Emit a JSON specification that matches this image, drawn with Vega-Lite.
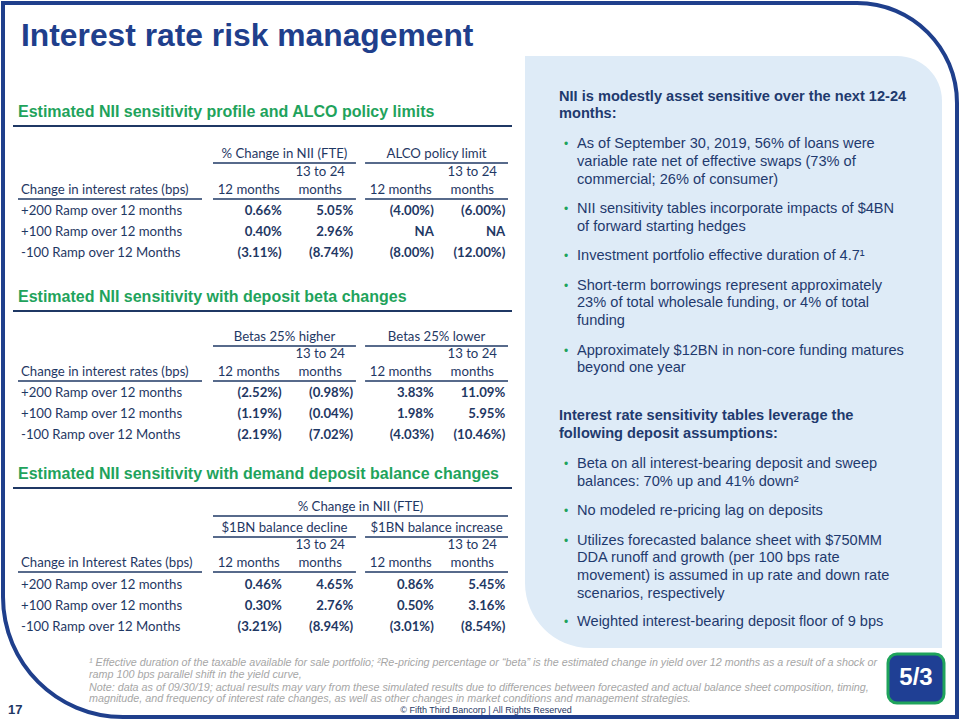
{
  "$schema": "https://vega.github.io/schema/vega-lite/v6.json",
  "width": 960,
  "height": 720,
  "autosize": {"type": "fit", "contains": "padding"},
  "padding": 0,
  "background": "#ffffff",
  "config": {"view": {"stroke": null}},
  "datasets": {
    "shapes": [
      {"area": "slide"},
      {"area": "summary"},
      {"area": "logo"}
    ],
    "texts": [
      {"role": "title", "area": "title", "line": 0, "text": "Interest rate risk management"},
      {"role": "heading", "area": "tables", "line": 1, "text": "Estimated NII sensitivity profile and ALCO policy limits"},
      {"role": "heading", "area": "tables", "line": 8, "text": "Estimated NII sensitivity with deposit beta changes"},
      {"role": "heading", "area": "tables", "line": 15, "text": "Estimated NII sensitivity with demand deposit balance changes"},
      {"role": "rowheader", "area": "tables", "line": 4, "text": "Change in interest rates (bps)"},
      {"role": "rowheader", "area": "tables", "line": 11, "text": "Change in interest rates (bps)"},
      {"role": "rowheader", "area": "tables", "line": 19, "text": "Change in Interest Rates (bps)"},
      {"role": "panelhead", "area": "summary", "line": 30, "text": "NII is modestly asset sensitive over the next 12-24"},
      {"role": "panelhead", "area": "summary", "line": 31, "text": "months:"},
      {"role": "bullet", "area": "summary", "line": 32, "first": true, "text": "As of September 30, 2019, 56% of loans were"},
      {"role": "bullet", "area": "summary", "line": 33, "first": false, "text": "variable rate net of effective swaps (73% of"},
      {"role": "bullet", "area": "summary", "line": 34, "first": false, "text": "commercial; 26% of consumer)"},
      {"role": "bullet", "area": "summary", "line": 35, "first": true, "text": "NII sensitivity tables incorporate impacts of $4BN"},
      {"role": "bullet", "area": "summary", "line": 36, "first": false, "text": "of forward starting hedges"},
      {"role": "bullet", "area": "summary", "line": 37, "first": true, "text": "Investment portfolio effective duration of 4.7¹"},
      {"role": "bullet", "area": "summary", "line": 38, "first": true, "text": "Short-term borrowings represent approximately"},
      {"role": "bullet", "area": "summary", "line": 39, "first": false, "text": "23% of total wholesale funding, or 4% of total"},
      {"role": "bullet", "area": "summary", "line": 40, "first": false, "text": "funding"},
      {"role": "bullet", "area": "summary", "line": 41, "first": true, "text": "Approximately $12BN in non-core funding matures"},
      {"role": "bullet", "area": "summary", "line": 42, "first": false, "text": "beyond one year"},
      {"role": "panelhead", "area": "summary", "line": 43, "text": "Interest rate sensitivity tables leverage the"},
      {"role": "panelhead", "area": "summary", "line": 44, "text": "following deposit assumptions:"},
      {"role": "bullet", "area": "summary", "line": 45, "first": true, "text": "Beta on all interest-bearing deposit and sweep"},
      {"role": "bullet", "area": "summary", "line": 46, "first": false, "text": "balances: 70% up and 41% down²"},
      {"role": "bullet", "area": "summary", "line": 47, "first": true, "text": "No modeled re-pricing lag on deposits"},
      {"role": "bullet", "area": "summary", "line": 48, "first": true, "text": "Utilizes forecasted balance sheet with $750MM"},
      {"role": "bullet", "area": "summary", "line": 49, "first": false, "text": "DDA runoff and growth (per 100 bps rate"},
      {"role": "bullet", "area": "summary", "line": 50, "first": false, "text": "movement) is assumed in up rate and down rate"},
      {"role": "bullet", "area": "summary", "line": 51, "first": false, "text": "scenarios, respectively"},
      {"role": "bullet", "area": "summary", "line": 52, "first": true, "text": "Weighted interest-bearing deposit floor of 9 bps"},
      {"role": "footnote", "area": "footer", "line": 23, "text": "¹ Effective duration of the taxable available for sale portfolio; ²Re-pricing percentage or “beta” is the estimated change in yield over 12 months as a result of a shock or"},
      {"role": "footnote", "area": "footer", "line": 24, "text": "ramp 100 bps parallel shift in the yield curve,"},
      {"role": "footnote", "area": "footer", "line": 25, "text": "Note: data as of 09/30/19; actual results may vary from these simulated results due to differences between forecasted and actual balance sheet composition, timing,"},
      {"role": "footnote", "area": "footer", "line": 26, "text": "magnitude, and frequency of interest rate changes, as well as other changes in market conditions and management strategies."},
      {"role": "copyright", "area": "footer", "line": 27, "text": "© Fifth Third Bancorp | All Rights Reserved"},
      {"role": "page", "area": "page", "line": 27, "text": "17"},
      {"role": "logo", "area": "logo", "line": 28, "text": "5/3"}
    ],
    "groups": [
      {"table": "t1", "line": 2, "set": "A", "text": "% Change in NII (FTE)"},
      {"table": "t1", "line": 2, "set": "B", "text": "ALCO policy limit"},
      {"table": "t2", "line": 9, "set": "A", "text": "Betas 25% higher"},
      {"table": "t2", "line": 9, "set": "B", "text": "Betas 25% lower"},
      {"table": "t3", "line": 17, "set": "A", "text": "$1BN balance decline"},
      {"table": "t3", "line": 17, "set": "B", "text": "$1BN balance increase"}
    ],
    "superheads": [
      {"table": "t3", "line": 16, "span": "all", "text": "% Change in NII (FTE)"}
    ],
    "colheads": [
      {"table": "t1", "line": 3, "set": "A", "horizon": "13 to 24 months", "text": "13 to 24"},
      {"table": "t1", "line": 3, "set": "B", "horizon": "13 to 24 months", "text": "13 to 24"},
      {"table": "t1", "line": 4, "set": "A", "horizon": "12 months", "text": "12 months"},
      {"table": "t1", "line": 4, "set": "A", "horizon": "13 to 24 months", "text": "months"},
      {"table": "t1", "line": 4, "set": "B", "horizon": "12 months", "text": "12 months"},
      {"table": "t1", "line": 4, "set": "B", "horizon": "13 to 24 months", "text": "months"},
      {"table": "t2", "line": 10, "set": "A", "horizon": "13 to 24 months", "text": "13 to 24"},
      {"table": "t2", "line": 10, "set": "B", "horizon": "13 to 24 months", "text": "13 to 24"},
      {"table": "t2", "line": 11, "set": "A", "horizon": "12 months", "text": "12 months"},
      {"table": "t2", "line": 11, "set": "A", "horizon": "13 to 24 months", "text": "months"},
      {"table": "t2", "line": 11, "set": "B", "horizon": "12 months", "text": "12 months"},
      {"table": "t2", "line": 11, "set": "B", "horizon": "13 to 24 months", "text": "months"},
      {"table": "t3", "line": 18, "set": "A", "horizon": "13 to 24 months", "text": "13 to 24"},
      {"table": "t3", "line": 18, "set": "B", "horizon": "13 to 24 months", "text": "13 to 24"},
      {"table": "t3", "line": 19, "set": "A", "horizon": "12 months", "text": "12 months"},
      {"table": "t3", "line": 19, "set": "A", "horizon": "13 to 24 months", "text": "months"},
      {"table": "t3", "line": 19, "set": "B", "horizon": "12 months", "text": "12 months"},
      {"table": "t3", "line": 19, "set": "B", "horizon": "13 to 24 months", "text": "months"}
    ],
    "underlines": [
      {"table": "t1", "line": 2, "from": "A", "to": "A"},
      {"table": "t1", "line": 2, "from": "B", "to": "B"},
      {"table": "t1", "line": 4, "from": "A", "to": "A"},
      {"table": "t1", "line": 4, "from": "B", "to": "B"},
      {"table": "t2", "line": 9, "from": "A", "to": "A"},
      {"table": "t2", "line": 9, "from": "B", "to": "B"},
      {"table": "t2", "line": 11, "from": "A", "to": "A"},
      {"table": "t2", "line": 11, "from": "B", "to": "B"},
      {"table": "t3", "line": 16, "from": "A", "to": "B"},
      {"table": "t3", "line": 17, "from": "A", "to": "A"},
      {"table": "t3", "line": 17, "from": "B", "to": "B"},
      {"table": "t3", "line": 19, "from": "A", "to": "A"},
      {"table": "t3", "line": 19, "from": "B", "to": "B"}
    ],
    "cells": [
      {"table": "t1", "line": 5, "scenario": "+200 Ramp over 12 months", "set": "A", "horizon": "12 months", "value": "0.66%"},
      {"table": "t1", "line": 5, "scenario": "+200 Ramp over 12 months", "set": "A", "horizon": "13 to 24 months", "value": "5.05%"},
      {"table": "t1", "line": 5, "scenario": "+200 Ramp over 12 months", "set": "B", "horizon": "12 months", "value": "(4.00%)"},
      {"table": "t1", "line": 5, "scenario": "+200 Ramp over 12 months", "set": "B", "horizon": "13 to 24 months", "value": "(6.00%)"},
      {"table": "t1", "line": 6, "scenario": "+100 Ramp over 12 months", "set": "A", "horizon": "12 months", "value": "0.40%"},
      {"table": "t1", "line": 6, "scenario": "+100 Ramp over 12 months", "set": "A", "horizon": "13 to 24 months", "value": "2.96%"},
      {"table": "t1", "line": 6, "scenario": "+100 Ramp over 12 months", "set": "B", "horizon": "12 months", "value": "NA"},
      {"table": "t1", "line": 6, "scenario": "+100 Ramp over 12 months", "set": "B", "horizon": "13 to 24 months", "value": "NA"},
      {"table": "t1", "line": 7, "scenario": "-100 Ramp over 12 Months", "set": "A", "horizon": "12 months", "value": "(3.11%)"},
      {"table": "t1", "line": 7, "scenario": "-100 Ramp over 12 Months", "set": "A", "horizon": "13 to 24 months", "value": "(8.74%)"},
      {"table": "t1", "line": 7, "scenario": "-100 Ramp over 12 Months", "set": "B", "horizon": "12 months", "value": "(8.00%)"},
      {"table": "t1", "line": 7, "scenario": "-100 Ramp over 12 Months", "set": "B", "horizon": "13 to 24 months", "value": "(12.00%)"},
      {"table": "t2", "line": 12, "scenario": "+200 Ramp over 12 months", "set": "A", "horizon": "12 months", "value": "(2.52%)"},
      {"table": "t2", "line": 12, "scenario": "+200 Ramp over 12 months", "set": "A", "horizon": "13 to 24 months", "value": "(0.98%)"},
      {"table": "t2", "line": 12, "scenario": "+200 Ramp over 12 months", "set": "B", "horizon": "12 months", "value": "3.83%"},
      {"table": "t2", "line": 12, "scenario": "+200 Ramp over 12 months", "set": "B", "horizon": "13 to 24 months", "value": "11.09%"},
      {"table": "t2", "line": 13, "scenario": "+100 Ramp over 12 months", "set": "A", "horizon": "12 months", "value": "(1.19%)"},
      {"table": "t2", "line": 13, "scenario": "+100 Ramp over 12 months", "set": "A", "horizon": "13 to 24 months", "value": "(0.04%)"},
      {"table": "t2", "line": 13, "scenario": "+100 Ramp over 12 months", "set": "B", "horizon": "12 months", "value": "1.98%"},
      {"table": "t2", "line": 13, "scenario": "+100 Ramp over 12 months", "set": "B", "horizon": "13 to 24 months", "value": "5.95%"},
      {"table": "t2", "line": 14, "scenario": "-100 Ramp over 12 Months", "set": "A", "horizon": "12 months", "value": "(2.19%)"},
      {"table": "t2", "line": 14, "scenario": "-100 Ramp over 12 Months", "set": "A", "horizon": "13 to 24 months", "value": "(7.02%)"},
      {"table": "t2", "line": 14, "scenario": "-100 Ramp over 12 Months", "set": "B", "horizon": "12 months", "value": "(4.03%)"},
      {"table": "t2", "line": 14, "scenario": "-100 Ramp over 12 Months", "set": "B", "horizon": "13 to 24 months", "value": "(10.46%)"},
      {"table": "t3", "line": 20, "scenario": "+200 Ramp over 12 months", "set": "A", "horizon": "12 months", "value": "0.46%"},
      {"table": "t3", "line": 20, "scenario": "+200 Ramp over 12 months", "set": "A", "horizon": "13 to 24 months", "value": "4.65%"},
      {"table": "t3", "line": 20, "scenario": "+200 Ramp over 12 months", "set": "B", "horizon": "12 months", "value": "0.86%"},
      {"table": "t3", "line": 20, "scenario": "+200 Ramp over 12 months", "set": "B", "horizon": "13 to 24 months", "value": "5.45%"},
      {"table": "t3", "line": 21, "scenario": "+100 Ramp over 12 months", "set": "A", "horizon": "12 months", "value": "0.30%"},
      {"table": "t3", "line": 21, "scenario": "+100 Ramp over 12 months", "set": "A", "horizon": "13 to 24 months", "value": "2.76%"},
      {"table": "t3", "line": 21, "scenario": "+100 Ramp over 12 months", "set": "B", "horizon": "12 months", "value": "0.50%"},
      {"table": "t3", "line": 21, "scenario": "+100 Ramp over 12 months", "set": "B", "horizon": "13 to 24 months", "value": "3.16%"},
      {"table": "t3", "line": 22, "scenario": "-100 Ramp over 12 Months", "set": "A", "horizon": "12 months", "value": "(3.21%)"},
      {"table": "t3", "line": 22, "scenario": "-100 Ramp over 12 Months", "set": "A", "horizon": "13 to 24 months", "value": "(8.94%)"},
      {"table": "t3", "line": 22, "scenario": "-100 Ramp over 12 Months", "set": "B", "horizon": "12 months", "value": "(3.01%)"},
      {"table": "t3", "line": 22, "scenario": "-100 Ramp over 12 Months", "set": "B", "horizon": "13 to 24 months", "value": "(8.54%)"}
    ]
  },
  "encoding": {
    "y": {
      "field": "line",
      "type": "quantitative",
      "axis": null,
      "scale": {
        "zero": false,
        "nice": false,
        "domain": [0, 1, 2, 3, 4, 5, 6, 7, 8, 9, 10, 11, 12, 13, 14, 15, 16, 17, 18, 19, 20, 21, 22, 23, 24, 25, 26, 27, 28, 30, 31, 32, 33, 34, 35, 36, 37, 38, 39, 40, 41, 42, 43, 44, 45, 46, 47, 48, 49, 50, 51, 52],
        "range": [36, 112, 154, 172, 190, 211, 232, 253, 297, 337, 354, 372, 393, 414, 435, 474, 507, 528, 545, 563, 585, 606, 627, 663, 675, 688, 699, 710, 678, 97, 114, 144, 162, 180, 209, 227, 256, 286, 303, 321, 351, 368, 416, 434, 464, 482, 511, 541, 558, 576, 594, 622]
      }
    }
  },
  "resolve": {"scale": {"x": "independent", "y": "independent", "xOffset": "independent"}},
  "layer": [
    {
      "data": {"name": "shapes"},
      "transform": [{"filter": "datum.area == 'summary'"}],
      "mark": {"type": "rect", "fill": "#DEEBF7", "cornerRadiusTopRight": 45, "cornerRadiusBottomLeft": 65},
      "encoding": {
        "x": {"field": "area", "type": "nominal", "axis": null, "scale": {"type": "band", "domain": ["summary"], "range": [525, 942], "paddingInner": 0, "paddingOuter": 0}},
        "y": {"field": "area", "type": "nominal", "axis": null, "scale": {"type": "band", "domain": ["summary"], "range": [56, 648], "paddingInner": 0, "paddingOuter": 0}}
      }
    },
    {
      "data": {"name": "shapes"},
      "transform": [{"filter": "datum.area == 'slide'"}],
      "mark": {"type": "rect", "fill": "transparent", "stroke": "#1F3F8C", "strokeWidth": 4, "cornerRadiusTopRight": 100, "cornerRadiusBottomLeft": 120},
      "encoding": {
        "x": {"field": "area", "type": "nominal", "axis": null, "scale": {"type": "band", "domain": ["slide"], "range": [3, 957], "paddingInner": 0, "paddingOuter": 0}},
        "y": {"field": "area", "type": "nominal", "axis": null, "scale": {"type": "band", "domain": ["slide"], "range": [3, 717], "paddingInner": 0, "paddingOuter": 0}}
      }
    },
    {
      "data": {"name": "shapes"},
      "transform": [{"filter": "datum.area == 'logo'"}],
      "mark": {"type": "rect", "fill": "#1F3F94", "stroke": "#1FA35C", "strokeWidth": 3, "cornerRadius": 9},
      "encoding": {
        "x": {"field": "area", "type": "nominal", "axis": null, "scale": {"type": "band", "domain": ["logo"], "range": [888, 944], "paddingInner": 0, "paddingOuter": 0}},
        "y": {"field": "area", "type": "nominal", "axis": null, "scale": {"type": "band", "domain": ["logo"], "range": [654, 703], "paddingInner": 0, "paddingOuter": 0}}
      }
    },
    {
      "data": {"name": "texts"},
      "transform": [{"filter": "datum.role == 'title'"}],
      "mark": {"type": "text", "font": "Liberation Sans", "fontWeight": "bold", "fontSize": 31.8, "color": "#1F3F8C", "align": "left", "baseline": "middle"},
      "encoding": {
        "x": {"field": "area", "type": "nominal", "axis": null, "bandPosition": 0, "scale": {"type": "band", "domain": ["title"], "range": [21, 500], "paddingInner": 0, "paddingOuter": 0}},
        "text": {"field": "text"}
      }
    },
    {
      "data": {"name": "texts"},
      "transform": [{"filter": "datum.role == 'heading'"}],
      "mark": {"type": "text", "font": "Liberation Sans", "fontWeight": "bold", "fontSize": 16, "color": "#1FA35C", "align": "left", "baseline": "middle"},
      "encoding": {
        "x": {"field": "area", "type": "nominal", "axis": null, "bandPosition": 0, "scale": {"type": "band", "domain": ["tables"], "range": [18, 512], "paddingInner": 0, "paddingOuter": 0}},
        "text": {"field": "text"}
      }
    },
    {
      "data": {"name": "texts"},
      "transform": [{"filter": "datum.role == 'heading'"}],
      "mark": {"type": "rule", "color": "#1F3864", "strokeWidth": 2, "yOffset": 14},
      "encoding": {
        "x": {"field": "area", "type": "nominal", "axis": null, "bandPosition": 0, "scale": {"type": "band", "domain": ["tables"], "range": [13, 512], "paddingInner": 0, "paddingOuter": 0}},
        "x2": {"field": "area", "bandPosition": 1}
      }
    },
    {
      "data": {"name": "texts"},
      "transform": [{"filter": "datum.role == 'rowheader'"}],
      "mark": {"type": "text", "font": "Lato", "fontSize": 13.2, "color": "#1F3864", "align": "left", "baseline": "middle"},
      "encoding": {
        "x": {"field": "area", "type": "nominal", "axis": null, "bandPosition": 0, "scale": {"type": "band", "domain": ["tables"], "range": [21, 202], "paddingInner": 0, "paddingOuter": 0}},
        "text": {"field": "text"}
      }
    },
    {
      "data": {"name": "texts"},
      "transform": [{"filter": "datum.role == 'rowheader'"}],
      "mark": {"type": "rule", "color": "#1F3864", "strokeWidth": 1.5, "yOffset": 9},
      "encoding": {
        "x": {"field": "area", "type": "nominal", "axis": null, "bandPosition": 0, "scale": {"type": "band", "domain": ["tables"], "range": [18, 202], "paddingInner": 0, "paddingOuter": 0}},
        "x2": {"field": "area", "bandPosition": 1}
      }
    },
    {
      "data": {"name": "cells"},
      "transform": [{"filter": "datum.set == 'A' && datum.horizon == '12 months'"}],
      "mark": {"type": "text", "font": "Lato", "fontSize": 13.2, "color": "#1F3864", "align": "left", "baseline": "middle", "dx": 21},
      "encoding": {
        "x": {"field": "table", "type": "nominal", "axis": null, "bandPosition": 0, "scale": {"type": "band", "domain": ["t1", "t2", "t3"], "range": [0, 0], "paddingInner": 0, "paddingOuter": 0}},
        "text": {"field": "scenario"}
      }
    },
    {
      "data": {"name": "cells"},
      "mark": {"type": "text", "font": "Lato", "fontWeight": "bold", "fontSize": 13.2, "color": "#1F3864", "align": "right", "baseline": "middle", "dx": 33},
      "encoding": {
        "x": {"field": "set", "type": "nominal", "axis": null, "scale": {"type": "band", "domain": ["A", "B"], "range": [213, 508], "paddingInner": 0.06, "paddingOuter": 0}},
        "xOffset": {"field": "horizon", "type": "nominal", "scale": {"type": "band", "domain": ["12 months", "13 to 24 months"], "paddingInner": 0, "paddingOuter": 0}},
        "text": {"field": "value"}
      }
    },
    {
      "data": {"name": "colheads"},
      "mark": {"type": "text", "font": "Lato", "fontSize": 13.2, "color": "#1F3864", "align": "center", "baseline": "middle"},
      "encoding": {
        "x": {"field": "set", "type": "nominal", "axis": null, "scale": {"type": "band", "domain": ["A", "B"], "range": [213, 508], "paddingInner": 0.06, "paddingOuter": 0}},
        "xOffset": {"field": "horizon", "type": "nominal", "scale": {"type": "band", "domain": ["12 months", "13 to 24 months"], "paddingInner": 0, "paddingOuter": 0}},
        "text": {"field": "text"}
      }
    },
    {
      "data": {"name": "groups"},
      "mark": {"type": "text", "font": "Lato", "fontSize": 13.2, "color": "#1F3864", "align": "center", "baseline": "middle"},
      "encoding": {
        "x": {"field": "set", "type": "nominal", "axis": null, "bandPosition": 0.5, "scale": {"type": "band", "domain": ["A", "B"], "range": [213, 508], "paddingInner": 0.06, "paddingOuter": 0}},
        "text": {"field": "text"}
      }
    },
    {
      "data": {"name": "superheads"},
      "mark": {"type": "text", "font": "Lato", "fontSize": 13.2, "color": "#1F3864", "align": "center", "baseline": "middle"},
      "encoding": {
        "x": {"field": "span", "type": "nominal", "axis": null, "bandPosition": 0.5, "scale": {"type": "band", "domain": ["all"], "range": [213, 508], "paddingInner": 0, "paddingOuter": 0}},
        "text": {"field": "text"}
      }
    },
    {
      "data": {"name": "underlines"},
      "mark": {"type": "rule", "color": "#1F3864", "strokeWidth": 1.5, "yOffset": 9},
      "encoding": {
        "x": {"field": "from", "type": "nominal", "axis": null, "bandPosition": 0, "scale": {"type": "band", "domain": ["A", "B"], "range": [213, 508], "paddingInner": 0.06, "paddingOuter": 0}},
        "x2": {"field": "to", "bandPosition": 1}
      }
    },
    {
      "data": {"name": "texts"},
      "transform": [{"filter": "datum.role == 'panelhead'"}],
      "mark": {"type": "text", "font": "Liberation Sans", "fontWeight": "bold", "fontSize": 14.6, "color": "#1F3A6E", "align": "left", "baseline": "middle"},
      "encoding": {
        "x": {"field": "area", "type": "nominal", "axis": null, "bandPosition": 0, "scale": {"type": "band", "domain": ["summary"], "range": [559, 920], "paddingInner": 0, "paddingOuter": 0}},
        "text": {"field": "text"}
      }
    },
    {
      "data": {"name": "texts"},
      "transform": [{"filter": "datum.role == 'bullet'"}],
      "mark": {"type": "text", "font": "Liberation Sans", "fontSize": 14.6, "color": "#1F3A6E", "align": "left", "baseline": "middle", "dx": 18},
      "encoding": {
        "x": {"field": "area", "type": "nominal", "axis": null, "bandPosition": 0, "scale": {"type": "band", "domain": ["summary"], "range": [559, 920], "paddingInner": 0, "paddingOuter": 0}},
        "text": {"field": "text"}
      }
    },
    {
      "data": {"name": "texts"},
      "transform": [{"filter": "datum.role == 'bullet' && datum.first"}],
      "mark": {"type": "text", "font": "Liberation Sans", "fontSize": 12, "color": "#1FA35C", "align": "center", "baseline": "middle", "dx": 7, "text": "•"},
      "encoding": {
        "x": {"field": "area", "type": "nominal", "axis": null, "bandPosition": 0, "scale": {"type": "band", "domain": ["summary"], "range": [559, 920], "paddingInner": 0, "paddingOuter": 0}}
      }
    },
    {
      "data": {"name": "texts"},
      "transform": [{"filter": "datum.role == 'footnote'"}],
      "mark": {"type": "text", "font": "Liberation Sans", "fontStyle": "italic", "fontSize": 10.75, "color": "#A6A6A6", "align": "left", "baseline": "middle"},
      "encoding": {
        "x": {"field": "area", "type": "nominal", "axis": null, "bandPosition": 0, "scale": {"type": "band", "domain": ["footer"], "range": [89, 883], "paddingInner": 0, "paddingOuter": 0}},
        "text": {"field": "text"}
      }
    },
    {
      "data": {"name": "texts"},
      "transform": [{"filter": "datum.role == 'copyright'"}],
      "mark": {"type": "text", "font": "Liberation Sans", "fontSize": 9, "color": "#1F3864", "align": "center", "baseline": "middle"},
      "encoding": {
        "x": {"field": "area", "type": "nominal", "axis": null, "bandPosition": 0.5, "scale": {"type": "band", "domain": ["footer"], "range": [89, 883], "paddingInner": 0, "paddingOuter": 0}},
        "text": {"field": "text"}
      }
    },
    {
      "data": {"name": "texts"},
      "transform": [{"filter": "datum.role == 'page'"}],
      "mark": {"type": "text", "font": "Liberation Sans", "fontWeight": "bold", "fontSize": 13, "color": "#1F3864", "align": "left", "baseline": "middle"},
      "encoding": {
        "x": {"field": "area", "type": "nominal", "axis": null, "bandPosition": 0, "scale": {"type": "band", "domain": ["page"], "range": [8, 30], "paddingInner": 0, "paddingOuter": 0}},
        "text": {"field": "text"}
      }
    },
    {
      "data": {"name": "texts"},
      "transform": [{"filter": "datum.role == 'logo'"}],
      "mark": {"type": "text", "font": "Liberation Sans", "fontWeight": "bold", "fontSize": 24, "color": "#ffffff", "align": "center", "baseline": "middle"},
      "encoding": {
        "x": {"field": "area", "type": "nominal", "axis": null, "bandPosition": 0.5, "scale": {"type": "band", "domain": ["logo"], "range": [888, 944], "paddingInner": 0, "paddingOuter": 0}},
        "text": {"field": "text"}
      }
    }
  ]
}
